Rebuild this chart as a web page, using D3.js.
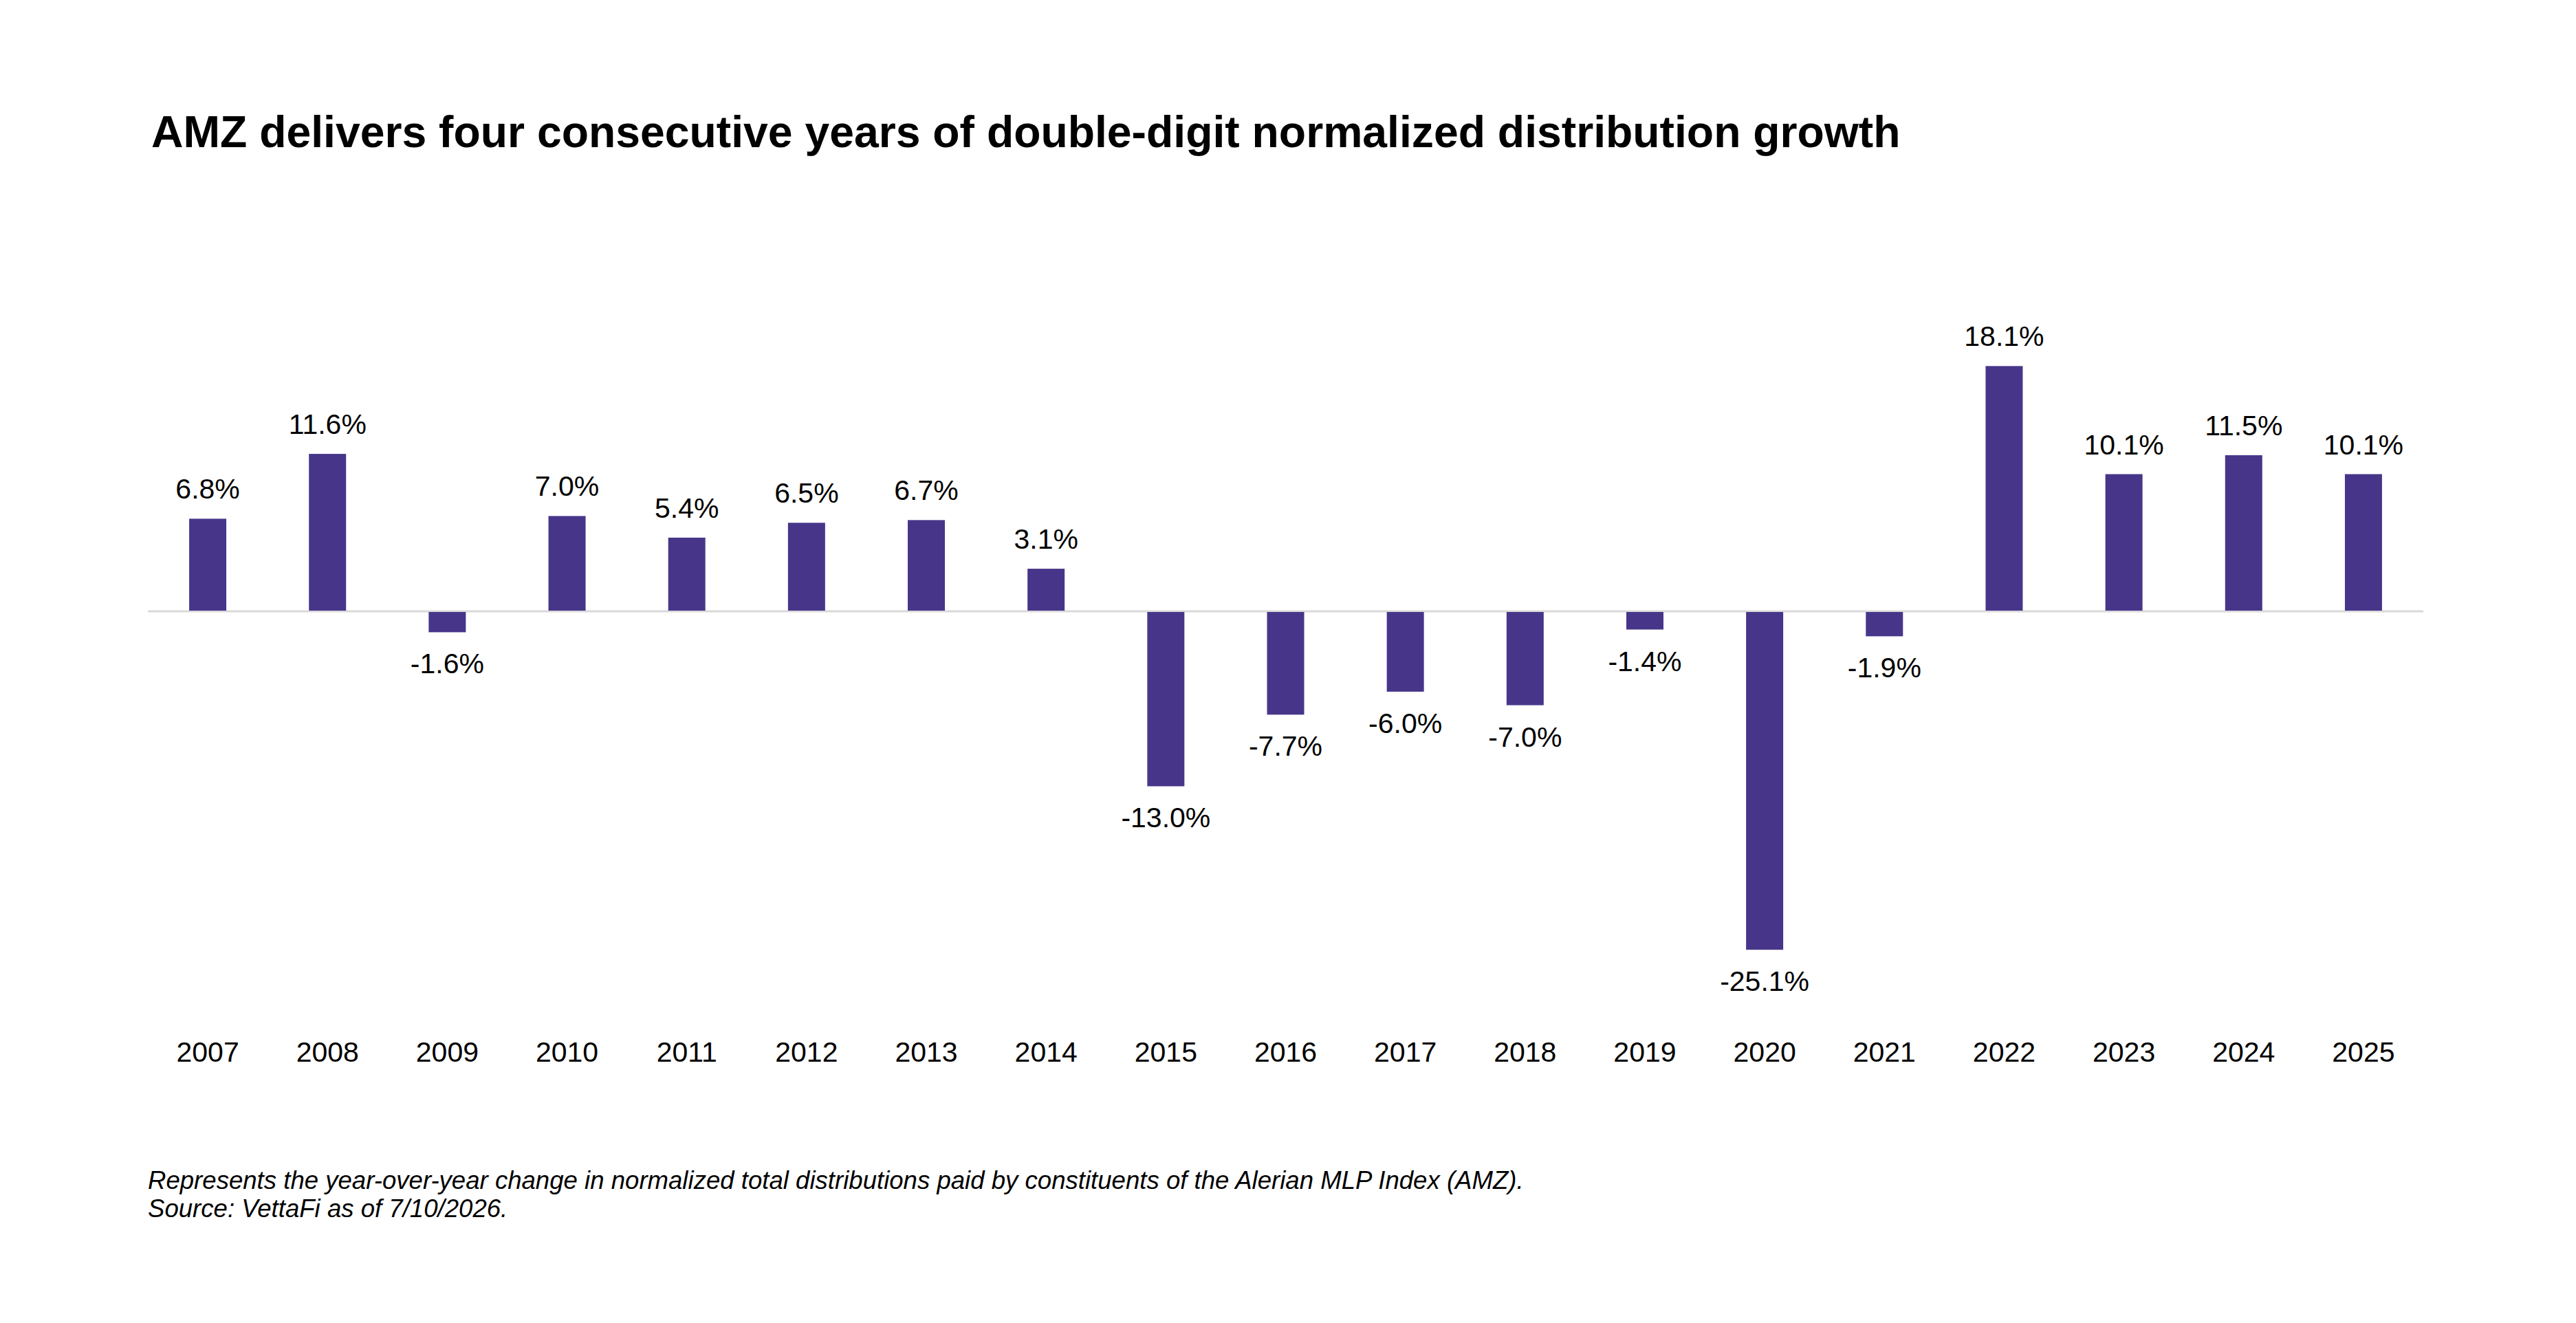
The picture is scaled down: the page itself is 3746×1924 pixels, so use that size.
<!DOCTYPE html>
<html lang="en">
  <head>
    <meta charset="UTF-8" />
    <title>AMZ distribution growth</title>
    <style>
      body { margin: 0; background: #fff; }
      text { font-family: "Liberation Sans", Arial, sans-serif; fill: #000; }
    </style>
  </head>
  <body>
    <div id="chart"></div>
    <script src="https://cdn.jsdelivr.net/npm/d3@7"></script>
    <script>
    var width = 3746;
    var height = 1924;

    // chart data
    var years = ["2007","2008","2009","2010","2011","2012","2013","2014","2015","2016",
                 "2017","2018","2019","2020","2021","2022","2023","2024","2025"];
    var growth = [6.8, 11.6, -1.6, 7.0, 5.4, 6.5, 6.7, 3.1, -13.0, -7.7,
                  -6.0, -7.0, -1.4, -25.1, -1.9, 18.1, 10.1, 11.5, 10.1];

    var title = "AMZ delivers four consecutive years of double-digit normalized distribution growth";
    var notes = ["Represents the year-over-year change in normalized total distributions paid by constituents of the Alerian MLP Index (AMZ).",
                 "Source: VettaFi as of 7/10/2026."];

    var barColor = "#47358a";

    var svg = d3.select("#chart")
                .append("svg")
                .attr("width", width)
                .attr("height", height);

    var x = d3.scaleBand()
              .domain(years)
              .range([215, 3524])
              .paddingInner(0.69)
              .paddingOuter(0.345);

    var y = d3.scaleLinear()
              .domain([-30, 25])
              .range([888 + 30 * 19.65, 888 - 25 * 19.65]);

    // title
    svg.append("text")
       .attr("x", 220)
       .attr("y", 214)
       .style("font-size", "64.3px")
       .style("font-weight", "bold")
       .text(title);

    // zero line
    svg.append("line")
       .attr("x1", x.range()[0])
       .attr("x2", x.range()[1])
       .attr("y1", y(0) + 1)
       .attr("y2", y(0) + 1)
       .attr("stroke", "#d9d9d9")
       .attr("stroke-width", 3);

    // bars
    svg.selectAll("rect.bar")
       .data(growth)
       .enter()
       .append("rect")
       .attr("class", "bar")
       .attr("x", function(d, i){ return x(years[i]); })
       .attr("width", x.bandwidth())
       .attr("y", function(d){ return d >= 0 ? y(d) : y(0) + 2; })
       .attr("height", function(d){ return d >= 0 ? y(0) - y(d) : y(d) - y(0) - 2; })
       .attr("fill", barColor);

    // value labels
    svg.selectAll("text.val")
       .data(growth)
       .enter()
       .append("text")
       .attr("class", "val")
       .attr("x", function(d, i){ return x(years[i]) + x.bandwidth() / 2; })
       .attr("y", function(d){ return d >= 0 ? y(d) - 29 : y(d) + 60; })
       .attr("text-anchor", "middle")
       .style("font-size", "41px")
       .text(function(d){ return d.toFixed(1) + "%"; });

    // year labels
    var xAxis = d3.axisBottom(x).tickSize(0).tickPadding(0);
    var ax = svg.append("g")
       .attr("transform", "translate(0,1544)")
       .call(xAxis);
    ax.select(".domain").remove();
    ax.selectAll("text")
      .attr("dy", 0)
      .attr("y", 0)
      .style("font-size", "41px")
      .style("font-family", "'Liberation Sans', Arial, sans-serif")
      .attr("fill", "#000");

    // footnotes
    svg.selectAll("text.note")
       .data(notes)
       .enter()
       .append("text")
       .attr("class", "note")
       .attr("x", 215)
       .attr("y", function(d, i){ return 1729 + i * 41; })
       .style("font-size", "36.6px")
       .style("font-style", "italic")
       .text(function(d){ return d; });
    </script>
  </body>
</html>
